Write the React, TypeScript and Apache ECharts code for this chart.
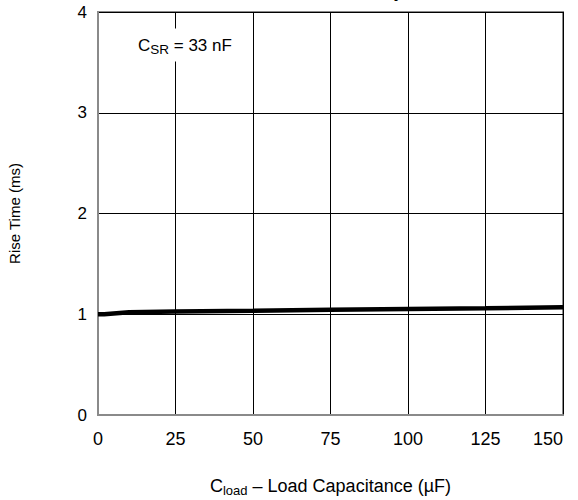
import React, { useEffect, useRef } from "react";
import * as echarts from "echarts";

const loadCap = [0, 2, 10, 25, 50, 75, 100, 125, 150];
const riseTime = [1.0, 1.0, 1.02, 1.027, 1.035, 1.044, 1.052, 1.06, 1.069];
const xTicks = [0, 25, 50, 75, 100, 125, 150];
const yTicks = [0, 1, 2, 3, 4];

export default function App() {
  const ref = useRef<HTMLDivElement>(null);
  useEffect(() => {
    if (!ref.current) return;
    const chart = echarts.init(ref.current, null, { renderer: "svg" });
    const font = "Liberation Sans, Arial, sans-serif";
    chart.setOption({
      animation: false,
      backgroundColor: "#fff",
      textStyle: { fontFamily: font },
      grid: {
        left: 98,
        right: 15,
        top: 12,
        bottom: 85,
        show: true,
        borderColor: "#8a8a8a",
        borderWidth: 2,
        containLabel: false,
        outerBoundsMode: "none",
      },
      graphic: [
        {
          type: "text",
          x: 402,
          y: 0,
          style: {
            text: "Rise Time vs Load Delay",
            align: "right",
            verticalAlign: "bottom",
            font: "bold 15px Liberation Sans, Arial, sans-serif",
            fill: "#000",
          },
        },
        {
          type: "text",
          x: 136,
          y: 45,
          z: 100,
          style: {
            text: "{m|C}{s|SR}{m| = 33 nF}",
            verticalAlign: "middle",
            backgroundColor: "#fff",
            padding: [5, 2, 5, 2],
            rich: {
              m: { fontSize: 17, fontFamily: font, fill: "#000", color: "#000" },
              s: { fontSize: 13.5, fontFamily: font, fill: "#000", color: "#000", padding: [9, 0, 0, 0] },
            },
          },
        },
      ],
      xAxis: {
        type: "value",
        min: 0,
        max: 150,
        interval: 25,
        name: "{m|C}{s|load}{m| \u2013 Load Capacitance (\u00b5F)}",
        nameLocation: "middle",
        nameGap: 60,
        nameTextStyle: {
          rich: {
            m: { fontSize: 18, fontFamily: font, color: "#000" },
            s: { fontSize: 13, fontFamily: font, color: "#000", padding: [9, 0, 0, 0] },
          },
        },
        axisLine: { show: true, lineStyle: { color: "#8a8a8a", width: 2 } },
        axisTick: { show: false },
        axisLabel: {
          color: "#000",
          fontSize: 18,
          margin: 15,
          fontFamily: font,
          alignMaxLabel: "right",
          formatter: (v: number) => (xTicks.includes(v) ? String(v) : ""),
        },
        splitLine: { show: true, lineStyle: { color: "#000", width: 1 } },
      },
      yAxis: {
        type: "value",
        min: 0,
        max: 4,
        interval: 1,
        name: "Rise Time (ms)",
        nameLocation: "middle",
        nameGap: 76,
        nameTextStyle: { fontSize: 15, color: "#000", fontFamily: font },
        axisLine: { show: true, lineStyle: { color: "#8a8a8a", width: 2 } },
        axisTick: { show: false },
        axisLabel: {
          color: "#000",
          fontSize: 17,
          margin: 11,
          fontFamily: font,
          formatter: (v: number) => (yTicks.includes(v) ? String(v) : ""),
        },
        splitLine: { show: true, lineStyle: { color: "#000", width: 1 } },
      },
      series: [
        {
          type: "line",
          data: loadCap.map((x, i) => [x, riseTime[i]]),
          showSymbol: false,
          lineStyle: { color: "#000", width: 4.5 },
          z: 5,
        },
      ],
    });
    return () => chart.dispose();
  }, []);
  return (
    <div
      ref={ref}
      style={{ position: "fixed", left: 0, top: 0, width: 578, height: 500 }}
    />
  );
}
